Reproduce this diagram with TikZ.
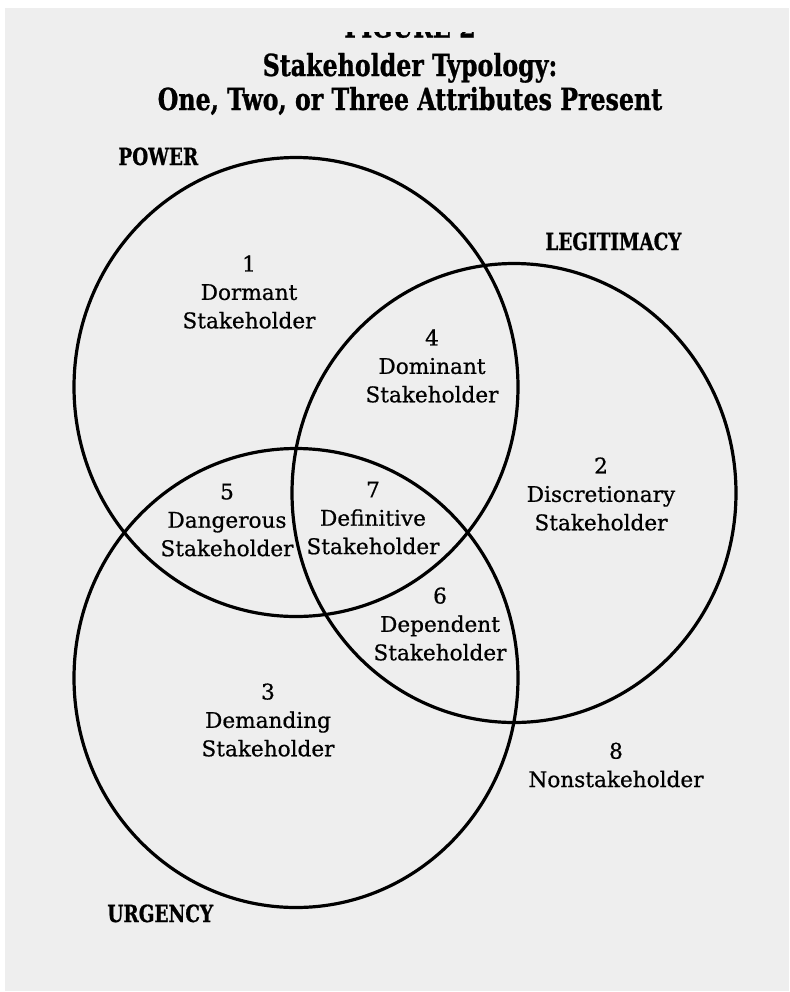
\documentclass[tikz,border=0pt]{standalone}
\usepackage{fontspec}
\setmainfont{DejaVu Serif}[FakeBold=0.7]
\newfontfamily\headfont[FakeStretch=0.78,FakeBold=0.8]{DejaVu Serif}
\definecolor{papergray}{RGB}{238,238,238}
\begin{document}
\begin{tikzpicture}[x=0.5pt,y=-0.5pt]
\tikzset{ring/.style={line width=1.6pt,black},
region/.style={align=center,inner sep=0pt,font=\fontsize{10.8}{14.2}\selectfont},
setname/.style={anchor=base west,inner sep=0pt,font=\headfont\bfseries\fontsize{11.8}{14}\selectfont},
heading/.style={anchor=base,inner sep=0pt,font=\headfont\bfseries\fontsize{15.2}{17}\selectfont}}
\useasboundingbox (0,0) rectangle (789,992);
\fill[white] (0,0) rectangle (789,992);
\fill[papergray] (5,8) rectangle (789,991);
\def\rx{222}
\def\ry{229.5}
\draw[ring] (296,387) ellipse [x radius=\rx, y radius=\ry];
\draw[ring] (514,493) ellipse [x radius=\rx, y radius=\ry];
\draw[ring] (296,678) ellipse [x radius=\rx, y radius=\ry];
\begin{scope}
\clip (300,32) rectangle (520,38);
\node[heading] (fig) at (410,37.5) {FIGURE 2};
\end{scope}
\node[heading] (title) at (410,76) {Stakeholder Typology:};
\node[heading] (subtitle) at (410,110) {One, Two, or Three Attributes Present};
\node[setname] (power) at (118,165) {POWER};
\node[setname] (legit) at (545,250) {LEGITIMACY};
\node[setname] (urgency) at (107,922) {URGENCY};
\foreach \n/\x/\y/\kind in {1/249/292/Dormant,4/432/366/Dominant,2/601/494/Discretionary,5/227/520/Dangerous,7/373/518/Definitive,6/440/624/Dependent,3/268/720/Demanding}
\node[region] (r\n) at (\x,\y) {\n\\\kind\\Stakeholder};
\node[region] (r8) at (616,765) {8\\Nonstakeholder};
\end{tikzpicture}
\end{document}
